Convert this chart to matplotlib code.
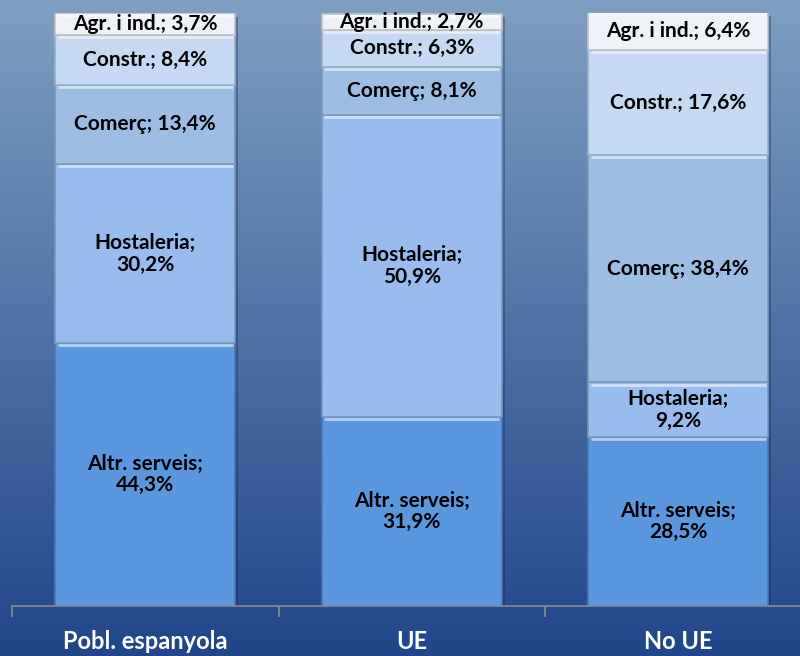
import numpy as np
import matplotlib.pyplot as plt
from matplotlib.colors import to_rgb

plt.rcParams['font.family'] = ['Lato', 'DejaVu Sans']

groups = ["Pobl. espanyola", "UE", "No UE"]
sectors = ["Altr. serveis", "Hostaleria", "Comerç", "Constr.", "Agr. i ind."]
altr = [44.3, 31.9, 28.5]
host = [30.2, 50.9, 9.2]
comerc = [13.4, 8.1, 38.4]
constr = [8.4, 6.3, 17.6]
agr = [3.7, 2.7, 6.4]
values = [altr, host, comerc, constr, agr]
colors = ["#5b97de", "#98bcee", "#9dbde2", "#c6d9f2", "#eef2f8"]
two_line = [True, True, False, False, False]


def fmt(v):
    return f"{v:.1f}".replace('.', ',') + '%'


def shade(c, f):
    r, g, b = to_rgb(c)
    return (r * f, g * f, b * f)


fig = plt.figure(figsize=(8, 6.56), dpi=100)

# gradient background
bg = fig.add_axes([0, 0, 1, 1])
top = np.array(to_rgb("#7f9fc2"))
bot = np.array(to_rgb("#21458a"))
t = np.linspace(0, 1, 256)[:, None]
grad = top[None, :] * (1 - t) + bot[None, :] * t
bg.imshow(grad[:, None, :], aspect='auto', extent=[0, 1, 0, 1])
bg.axis('off')

ax = fig.add_axes([12 / 800, 1 - 606 / 656, 799.5 / 800, 593 / 656])
ax.set_facecolor('none')
x = np.arange(len(groups))
w = 0.675

bottom = np.zeros(len(groups))
for vals, col, name, wrap in zip(values, colors, sectors, two_line):
    vals = np.array(vals)
    # soft shadow
    ax.bar(x + 0.012, vals, w, bottom=bottom - 0.6, color='#10264d',
           alpha=0.35, linewidth=0, zorder=1)
    ax.bar(x, vals, w, bottom=bottom, color=col, edgecolor=shade(col, 0.8),
           linewidth=1.2, zorder=2)
    # bevel highlight at the top of each segment
    for xi, b, v in zip(x, bottom, vals):
        ax.plot([xi - w / 2 + 0.01, xi + w / 2 - 0.01], [b + v - 0.35] * 2,
                color='white', alpha=0.55, lw=2, zorder=3,
                solid_capstyle='butt')
        sep = "\n" if wrap else " "
        ax.text(xi, b + v / 2, f"{name};{sep}{fmt(v)}", ha='center',
                va='center', fontsize=15, fontweight='bold', color='black',
                linespacing=1.1, zorder=4)
    bottom = bottom + vals

ax.set_xlim(-0.5, 2.5)
ax.set_ylim(0, 100)
ax.set_yticks([])
for s in ['top', 'right', 'left']:
    ax.spines[s].set_visible(False)
ax.spines['bottom'].set_color('#8c8c8c')
ax.spines['bottom'].set_linewidth(1.2)
ax.spines['bottom'].set_zorder(5)
ax.set_xticks(x)
ax.set_xticklabels(groups, color='white', fontsize=17, fontweight='bold')
ax.tick_params(axis='x', which='major', length=0, pad=17)
ax.set_xticks([-0.5, 0.5, 1.5, 2.5], minor=True)
ax.tick_params(axis='x', which='minor', length=8, color='#8c8c8c', width=1.2)

fig.savefig('out.png', dpi=100)
